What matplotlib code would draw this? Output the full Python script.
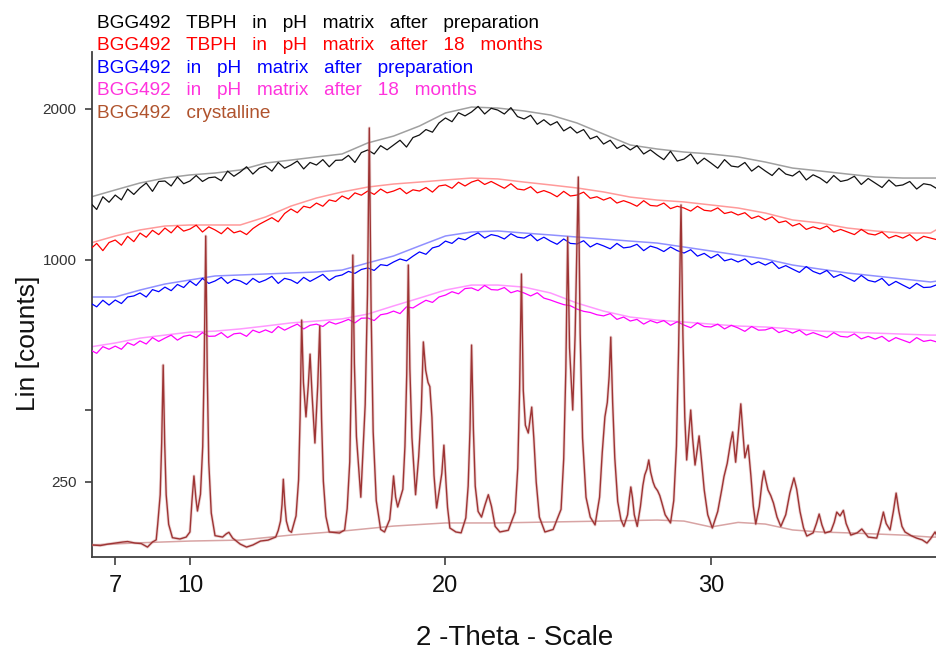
import numpy as np
import matplotlib
matplotlib.use("Agg")
import matplotlib.pyplot as plt
from matplotlib.ticker import NullLocator

plt.rcParams['font.family'] = ['Liberation Sans', 'DejaVu Sans']

# 2-theta grid of the amorphous scans (0.25 deg) and of their background fits (1 deg)
two_theta = np.arange(6.0, 38.26, 0.25)
bg_theta = [6, 7, 8, 9, 10, 11, 12, 13, 14, 15, 16, 17, 18, 19, 20, 21, 22,
            23, 24, 25, 26, 27, 28, 29, 30, 31, 32, 33, 34, 35, 36, 37, 38, 38.25]

# counts
tbph_prep = [1330, 1290, 1370, 1335, 1381, 1350, 1420, 1385, 1427, 1460, 1405, 1470,
             1473, 1440, 1500, 1455, 1473, 1510, 1470, 1495, 1500, 1475, 1540, 1505,
             1534, 1570, 1520, 1560, 1575, 1540, 1600, 1560, 1582, 1610, 1555, 1600,
             1582, 1620, 1570, 1615, 1617, 1650, 1600, 1670, 1689, 1660, 1720, 1690,
             1725, 1760, 1710, 1780, 1799, 1840, 1820, 1890, 1929, 1900, 1970, 1945,
             1976, 2020, 1960, 2005, 1991, 1960, 2010, 1940, 1921, 1950, 1880, 1915,
             1874, 1900, 1830, 1860, 1814, 1840, 1770, 1790, 1732, 1760, 1700, 1725,
             1689, 1720, 1660, 1690, 1653, 1620, 1680, 1610, 1624, 1660, 1590, 1630,
             1596, 1560, 1620, 1575, 1568, 1600, 1540, 1575, 1541, 1510, 1560, 1520,
             1507, 1540, 1480, 1515, 1493, 1460, 1510, 1470, 1480, 1505, 1450, 1490,
             1460, 1430, 1480, 1440, 1447, 1470, 1420, 1455, 1447, 1420]
tbph_18m = [1059, 1090, 1050, 1095, 1109, 1080, 1130, 1100, 1149, 1125, 1165, 1140,
            1178, 1150, 1190, 1160, 1172, 1195, 1155, 1185, 1167, 1145, 1180, 1150,
            1161, 1140, 1175, 1200, 1220, 1240, 1215, 1265, 1293, 1270, 1310, 1300,
            1330, 1310, 1350, 1340, 1375, 1355, 1395, 1380, 1407, 1385, 1420, 1395,
            1407, 1425, 1390, 1415, 1407, 1430, 1400, 1440, 1447, 1425, 1465, 1440,
            1466, 1480, 1450, 1470, 1447, 1425, 1455, 1420, 1414, 1435, 1395, 1410,
            1394, 1370, 1405, 1375, 1381, 1400, 1360, 1370, 1349, 1365, 1330, 1345,
            1330, 1310, 1345, 1315, 1311, 1330, 1295, 1310, 1299, 1280, 1310, 1285,
            1280, 1300, 1265, 1275, 1256, 1270, 1235, 1250, 1226, 1245, 1210, 1220,
            1190, 1205, 1170, 1185, 1172, 1190, 1155, 1170, 1155, 1140, 1170, 1145,
            1138, 1155, 1120, 1135, 1120, 1140, 1105, 1130, 1120, 1110]
ph_prep = [787, 770, 800, 778, 801, 785, 815, 820, 834, 815, 850, 840,
           862, 845, 875, 860, 892, 870, 905, 880, 892, 910, 880, 900,
           892, 875, 905, 885, 897, 915, 880, 905, 897, 880, 910, 890,
           907, 925, 895, 915, 922, 940, 930, 950, 958, 945, 975, 970,
           989, 1005, 995, 1020, 1043, 1030, 1065, 1075, 1103, 1090, 1120, 1110,
           1132, 1150, 1120, 1140, 1132, 1115, 1145, 1125, 1120, 1140, 1105, 1125,
           1103, 1085, 1115, 1090, 1087, 1105, 1070, 1090, 1076, 1060, 1090, 1065,
           1070, 1085, 1050, 1075, 1064, 1045, 1070, 1050, 1037, 1055, 1020, 1035,
           1010, 1030, 995, 1005, 989, 1005, 975, 990, 973, 990, 955, 970,
           952, 935, 965, 940, 927, 945, 910, 925, 907, 890, 920, 895,
           887, 905, 870, 890, 872, 855, 880, 860, 862, 875]
ph_18m = [592, 580, 605, 595, 607, 595, 620, 610, 627, 615, 640, 625,
          638, 650, 630, 645, 650, 640, 660, 645, 646, 660, 640, 655,
          658, 645, 670, 660, 671, 660, 685, 670, 683, 695, 675, 690,
          695, 685, 705, 695, 704, 715, 700, 720, 721, 710, 735, 740,
          751, 740, 770, 765, 783, 800, 790, 815, 824, 840, 830, 855,
          858, 845, 870, 850, 848, 860, 835, 845, 834, 820, 835, 810,
          801, 790, 780, 775, 760, 750, 745, 735, 730, 740, 715, 725,
          708, 715, 695, 710, 700, 710, 690, 705, 691, 680, 700, 685,
          683, 695, 675, 690, 679, 665, 685, 670, 671, 680, 660, 670,
          658, 670, 650, 660, 650, 640, 660, 645, 642, 655, 635, 645,
          634, 645, 625, 640, 630, 620, 640, 625, 630, 622]

tbph_prep_bg = [1368, 1414, 1460, 1493, 1514, 1527, 1548, 1596, 1617, 1639, 1660, 1740,
                1791, 1867, 1968, 2015, 2007, 1984, 1952, 1890, 1806, 1725, 1696, 1674,
                1660, 1639, 1603, 1561, 1541, 1520, 1500, 1493, 1493, 1493]
tbph_18m_bg = [1092, 1132, 1167, 1190, 1196, 1196, 1196, 1244, 1311, 1362, 1401, 1433,
               1453, 1466, 1480, 1493, 1487, 1466, 1447, 1427, 1401, 1368, 1349, 1337,
               1318, 1299, 1268, 1226, 1208, 1178, 1161, 1149, 1149, 1172]
ph_prep_bg = [815, 815, 848, 877, 897, 917, 922, 927, 932, 937, 947, 984,
              1021, 1076, 1132, 1155, 1161, 1149, 1138, 1126, 1115, 1103, 1092, 1070,
              1048, 1026, 1005, 973, 952, 932, 917, 902, 887, 892]
ph_18m_bg = [604, 619, 638, 650, 662, 666, 675, 687, 700, 708, 717, 738,
             774, 810, 848, 872, 872, 862, 834, 787, 751, 725, 712, 704,
             695, 687, 683, 675, 666, 662, 658, 654, 650, 650]

# crystalline reference pattern (one line of the file per group of peaks)
cryst_theta = [
    6.06, 6.4, 6.7, 7.0, 7.3, 7.5, 7.8, 8.05, 8.3, 8.5, 8.65,
    8.71, 8.81, 8.87, 8.93, 8.99, 9.05, 9.15, 9.3, 9.6, 9.85, 10.0,
    10.08, 10.16, 10.24, 10.3, 10.42, 10.51, 10.57, 10.63, 10.69, 10.75, 10.85, 11.0,
    11.3, 11.45, 11.55, 11.7, 12.0, 12.25, 12.5, 12.8, 13.1, 13.4,
    13.5, 13.59, 13.65, 13.7, 13.76, 13.82, 13.92, 14.02,
    14.2, 14.3, 14.36, 14.42, 14.49, 14.59, 14.68, 14.75, 14.83, 14.94,
    15.05, 15.13, 15.2, 15.27, 15.37, 15.5, 15.9, 16.1,
    16.2, 16.3, 16.36, 16.42, 16.48, 16.56, 16.73, 16.9, 16.99, 17.06, 17.13, 17.21,
    17.33, 17.5, 17.65,
    17.85, 17.93, 18.0, 18.08, 18.16, 18.36, 18.44, 18.51, 18.57, 18.63, 18.71, 18.85,
    18.97, 19.07, 19.15, 19.24, 19.33, 19.4, 19.48, 19.56, 19.66, 19.86, 19.94, 20.02,
    20.08, 20.17, 20.4, 20.6,
    20.78, 20.87, 20.94, 21.0, 21.07, 21.14, 21.25, 21.38, 21.52, 21.64, 21.76, 21.9,
    22.08, 22.4,
    22.66, 22.76, 22.83, 22.9, 22.97, 23.05, 23.16, 23.29, 23.37, 23.46, 23.58, 23.79, 24.1,
    24.4, 24.5, 24.58, 24.65, 24.72, 24.84, 24.93, 25.05, 25.12, 25.21, 25.34, 25.5, 25.68,
    25.85, 25.95, 26.05, 26.14, 26.21, 26.27, 26.34, 26.42, 26.53, 26.65, 26.76, 26.9,
    26.97, 27.02, 27.08, 27.15, 27.26,
    27.38, 27.47, 27.54, 27.62, 27.69, 27.76, 27.85, 27.92, 28.02, 28.1, 28.17, 28.3, 28.5,
    28.62, 28.72, 28.8, 28.89, 28.96, 29.03, 29.1, 29.18, 29.25, 29.32, 29.41, 29.49,
    29.56, 29.64, 29.75, 29.88, 30.05,
    30.25, 30.4, 30.48, 30.6, 30.72, 30.8, 30.91, 31.02, 31.1, 31.18, 31.25, 31.37,
    31.47, 31.56, 31.65,
    31.78, 31.88, 31.95, 32.02, 32.1, 32.2, 32.3, 32.43, 32.57, 32.75, 32.9, 33.05,
    33.15, 33.27, 33.4, 33.52,
    33.75, 33.87, 33.97, 34.07, 34.18, 34.4, 34.52, 34.61, 34.73, 34.85, 34.95, 35.12,
    35.35, 35.52, 35.75,
    36.06, 36.18, 36.3, 36.4, 36.54, 36.66, 36.76, 36.86, 36.97, 37.08, 37.3, 37.5,
    37.7, 37.87, 38.0, 38.16, 38.25]
cryst_counts = [
    193.5, 193.3, 193.8, 194.2, 194.6, 194.8, 194.2, 194.0, 192.8, 194.6, 195.5,
    204.4, 232.8, 319.7, 538, 319.7, 232.8, 204.4, 196.5, 195.9, 196.8, 199.5,
    225.5, 259, 228, 215.4, 233.6, 312, 547, 1132, 516, 282.5, 213.5, 197.5,
    196.8, 198.5, 199.3, 196.3, 193.8, 192.8, 193.5, 195.0, 195.4, 196.8,
    200.4, 206.8, 222.1, 254, 222.1, 206.8, 200.4, 199.3,
    211, 253, 383, 712, 480, 381, 470, 577, 440, 319.5,
    470, 687, 375, 251, 210.5, 199.5, 198.9, 200.7,
    217.7, 282.7, 491, 1026, 542, 333.8, 230, 413.5, 828.6, 1852, 754.5, 344.5,
    226, 201, 199.5,
    208, 228, 259, 230, 219.3, 240, 312.3, 508, 973, 526, 331.6, 233,
    292, 396.8, 623, 520, 480, 467, 380, 260, 218.3, 263, 315, 249.4,
    219, 201.9, 199.5, 199,
    209.3, 244.3, 349.5, 611, 349.5, 244.3, 215, 210, 222, 233, 220, 203,
    199.5, 200.5,
    214.3, 271.7, 455, 927, 455, 360, 341.6, 407, 330, 250, 210, 199.5, 201,
    217, 288, 520.5, 1126, 600, 399, 650, 1500, 655.7, 330.4, 230, 210, 204,
    230, 300, 381, 420, 500, 642, 420, 290, 225, 208, 203, 212,
    230, 243, 230, 212, 203,
    220, 245, 260.5, 270, 286, 265, 250, 243, 238, 232, 224.5, 212, 205.4,
    226, 313, 593.6, 1318, 650, 380, 286, 340, 399, 330, 277, 305,
    335, 290, 239, 212, 201.9,
    215, 240, 258, 280, 320, 344, 282, 350, 416, 340, 290, 315,
    260, 220, 204.6,
    220, 250, 267, 252, 239, 232, 223.4, 210, 203, 212, 235, 256,
    240, 215, 202, 197.3,
    199, 205, 212.6, 204, 198.9, 200, 206, 214.4, 211, 216, 205, 197.8,
    199, 201.3, 196.8,
    196.3, 203, 214.4, 205, 200.7, 215, 235, 215, 203, 199.5, 197.5, 196.3,
    195.5, 194.2, 196, 199.5, 196.8]
cryst_bg_theta = [6.06, 8, 10, 12, 14, 16, 18, 20, 22, 24, 26, 28, 29, 30, 31, 32,
                  33, 34, 35, 36, 37, 38, 38.25]
cryst_bg = [193.5, 194.3, 195.0, 195.4, 197.8, 200.0, 203.2, 205.4, 205.4, 206.1,
            206.8, 207.6, 206.8, 202.6, 205.8, 204.6, 200.7, 199.5, 199.0, 198.4,
            197.8, 196.8, 196.8]

legend_labels = ["BGG492   TBPH   in   pH   matrix   after   preparation",
                 "BGG492   TBPH   in   pH   matrix   after   18   months",
                 "BGG492   in   pH   matrix   after   preparation",
                 "BGG492   in   pH   matrix   after   18   months",
                 "BGG492   crystalline"]
legend_colors = ["#000000", "#ff0000", "#0000ff", "#ff33dd", "#b0532d"]

y_ticks = [250, 400, 1000, 2000]
y_ticklabels = ["250", "", "1000", "2000"]
x_ticks = [7, 10, 20, 30]


# square-root intensity axis (EVA style, offset) and slightly stretched 2-theta axis
def y_fwd(v):
    return np.sqrt(np.clip(np.asarray(v, dtype=float) - 190.0, 0, None))


def y_inv(u):
    return np.asarray(u, dtype=float) ** 2 + 190.0


K = 0.002077


def x_fwd(t):
    t = np.asarray(t, dtype=float)
    return t + K * t * t


def x_inv(u):
    u = np.asarray(u, dtype=float)
    return (np.sqrt(np.clip(1 + 4 * K * u, 0, None)) - 1) / (2 * K)


fig = plt.figure(figsize=(9.37, 6.53), dpi=100)
ax = fig.add_axes([92 / 937, 96 / 653, 845 / 937, 505 / 653])
ax.set_xscale('function', functions=(x_fwd, x_inv))
ax.set_yscale('function', functions=(y_fwd, y_inv))

scans = [(tbph_prep, tbph_prep_bg, "#111111", "#a0a0a0"),
         (tbph_18m, tbph_18m_bg, "#ff0000", "#ff9a9a"),
         (ph_prep, ph_prep_bg, "#0000ff", "#9090ff"),
         (ph_18m, ph_18m_bg, "#ff00ff", "#ff99ff")]
for data, bg, c, cbg in scans:
    ax.plot(bg_theta, bg, color=cbg, lw=1.1, zorder=2)
    ax.plot(two_theta, data, color=c, lw=0.9, zorder=3)

ax.plot(cryst_bg_theta, cryst_bg, color="#d8a4a4", lw=1.1, zorder=4)
ax.plot(cryst_theta, cryst_counts, color="#c98585", lw=2.2, alpha=0.35, zorder=5)
ax.plot(cryst_theta, cryst_counts, color="#9e3434", lw=1.0, zorder=6)

ax.set_xlim(6.06, 38.23)
ax.set_ylim(190.56, 2480)

ax.set_xticks(x_ticks)
ax.set_xticklabels([str(t) for t in x_ticks])
ax.set_yticks(y_ticks)
ax.set_yticklabels(y_ticklabels)
ax.xaxis.set_minor_locator(NullLocator())
ax.yaxis.set_minor_locator(NullLocator())

for s in ['top', 'right']:
    ax.spines[s].set_visible(False)
for s in ['left', 'bottom']:
    ax.spines[s].set_color('#404040')
    ax.spines[s].set_linewidth(1.3)

ax.tick_params(axis='x', length=6, width=1.2, color='#404040', pad=7,
               labelsize=17, labelcolor='#111111')
ax.tick_params(axis='y', length=5, width=1.2, color='#404040', pad=6,
               labelsize=11, labelcolor='#333333')

for i, (txt, c) in enumerate(zip(legend_labels, legend_colors)):
    fig.text(97 / 937, 1 - (23.5 + 22.4 * i) / 653, txt, color=c,
             fontsize=13.7, va='center', ha='left')

fig.text(515 / 937, 1 - 638 / 653, "2 -Theta - Scale", fontsize=20,
         ha='center', va='center', color='#111111')
fig.text(28 / 937, 1 - 343 / 653, "Lin [counts]", fontsize=19, rotation=90,
         ha='center', va='center', color='#111111')

fig.savefig("out.png", dpi=100)
